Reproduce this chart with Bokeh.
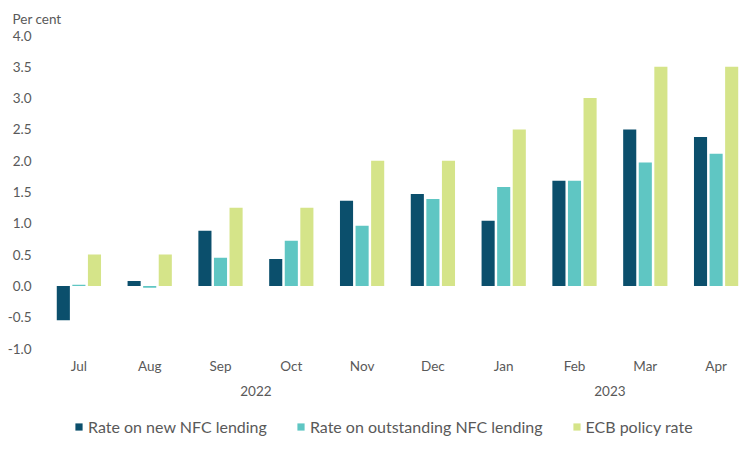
from bokeh.plotting import figure
from bokeh.layouts import column
from bokeh.models import (FactorRange, ColumnDataSource, Range1d, Legend, LegendItem,
                          FixedTicker, CustomJSTickFormatter)
from bokeh.transform import dodge
from bokeh.embed import file_html
from bokeh.resources import INLINE

years = ["2022", "2022", "2022", "2022", "2022", "2022", "2023", "2023", "2023", "2023"]
months = ["Jul", "Aug", "Sep", "Oct", "Nov", "Dec", "Jan", "Feb", "Mar", "Apr"]
new_nfc = [-0.55, 0.08, 0.88, 0.43, 1.36, 1.47, 1.04, 1.68, 2.50, 2.38]
outstanding_nfc = [0.02, -0.03, 0.45, 0.72, 0.96, 1.39, 1.58, 1.68, 1.97, 2.11]
ecb_rate = [0.50, 0.50, 1.25, 1.25, 2.00, 2.00, 2.50, 3.00, 3.50, 3.50]
y_ticks = [-1.0, -0.5, 0.0, 0.5, 1.0, 1.5, 2.0, 2.5, 3.0, 3.5, 4.0]

series_names = ["Rate on new NFC lending", "Rate on outstanding NFC lending", "ECB policy rate"]
colors = ["#0B4F6C", "#5FC6C3", "#D5E489"]

x = list(zip(years, months))
src = ColumnDataSource(dict(x=x, new=new_nfc, out=outstanding_nfc, ecb=ecb_rate))

FONT = "Lato"
TXT = "#595959"

p = figure(width=756, height=398, output_backend="svg", toolbar_location=None,
           x_range=FactorRange(factors=x, group_padding=0, range_padding=0),
           y_range=Range1d(-1.0, 4.0),
           min_border_left=43, min_border_right=5, min_border_top=35, min_border_bottom=20)

r1 = p.vbar(x=dodge("x", -0.22, range=p.x_range), top="new", width=0.185, source=src,
            fill_color=colors[0], line_color=None)
r2 = p.vbar(x=dodge("x", 0.0, range=p.x_range), top="out", width=0.185, source=src,
            fill_color=colors[1], line_color=None)
r3 = p.vbar(x=dodge("x", 0.22, range=p.x_range), top="ecb", width=0.185, source=src,
            fill_color=colors[2], line_color=None)

p.outline_line_color = None
p.grid.grid_line_color = None
p.background_fill_color = "white"
p.border_fill_color = "white"

p.title.text = "Per cent"
p.title.align = "left"
p.title.offset = -31
p.title.text_font = FONT
p.title.text_font_style = "normal"
p.title.text_font_size = "13.5px"
p.title.text_color = TXT
p.title.standoff = 17

ya = p.yaxis[0]
ya.ticker = FixedTicker(ticks=y_ticks)
ya.formatter = CustomJSTickFormatter(code="return tick.toFixed(1);")
ya.axis_line_color = None
ya.major_tick_line_color = None
ya.minor_tick_line_color = None
ya.major_tick_out = 0
ya.minor_tick_out = 0
ya.major_label_standoff = 12
ya.major_label_text_font = FONT
ya.major_label_text_font_size = "13.5px"
ya.major_label_text_color = TXT

xa = p.xaxis[0]
xa.axis_line_color = None
xa.major_tick_line_color = None
xa.minor_tick_line_color = None
xa.major_tick_out = 0
xa.minor_tick_out = 0
xa.separator_line_color = None
xa.major_label_standoff = 9
xa.major_label_text_font = FONT
xa.major_label_text_font_size = "13.5px"
xa.major_label_text_color = TXT
xa.group_text_font = FONT
xa.group_text_font_size = "13.5px"
xa.group_text_font_style = "normal"
xa.group_text_color = TXT

# legend in a small companion figure below the chart (zero-height swatch bars)
lp = figure(width=756, height=52, output_backend="svg", toolbar_location=None,
            x_range=Range1d(0, 1), y_range=Range1d(0, 1),
            x_axis_location=None, y_axis_location=None,
            min_border_left=0, min_border_right=0, min_border_top=0, min_border_bottom=0)
lp.grid.visible = False
lp.outline_line_color = None
lr = [lp.vbar(x=[0.5], top=[0], bottom=[0], width=0, fill_color=c, line_color=None)
      for c in colors]

legend = Legend(items=[LegendItem(label=n, renderers=[rr]) for n, rr in zip(series_names, lr)],
                orientation="horizontal", location=(31, 14),
                label_text_font=FONT, label_text_font_size="16px", label_text_color=TXT,
                glyph_width=9, glyph_height=9, label_standoff=5, spacing=29,
                border_line_color=None, background_fill_alpha=0, padding=4, margin=0)
lp.add_layout(legend, "center")

layout = column(p, lp, spacing=0)
open("out.html", "w").write(file_html(layout, INLINE))
